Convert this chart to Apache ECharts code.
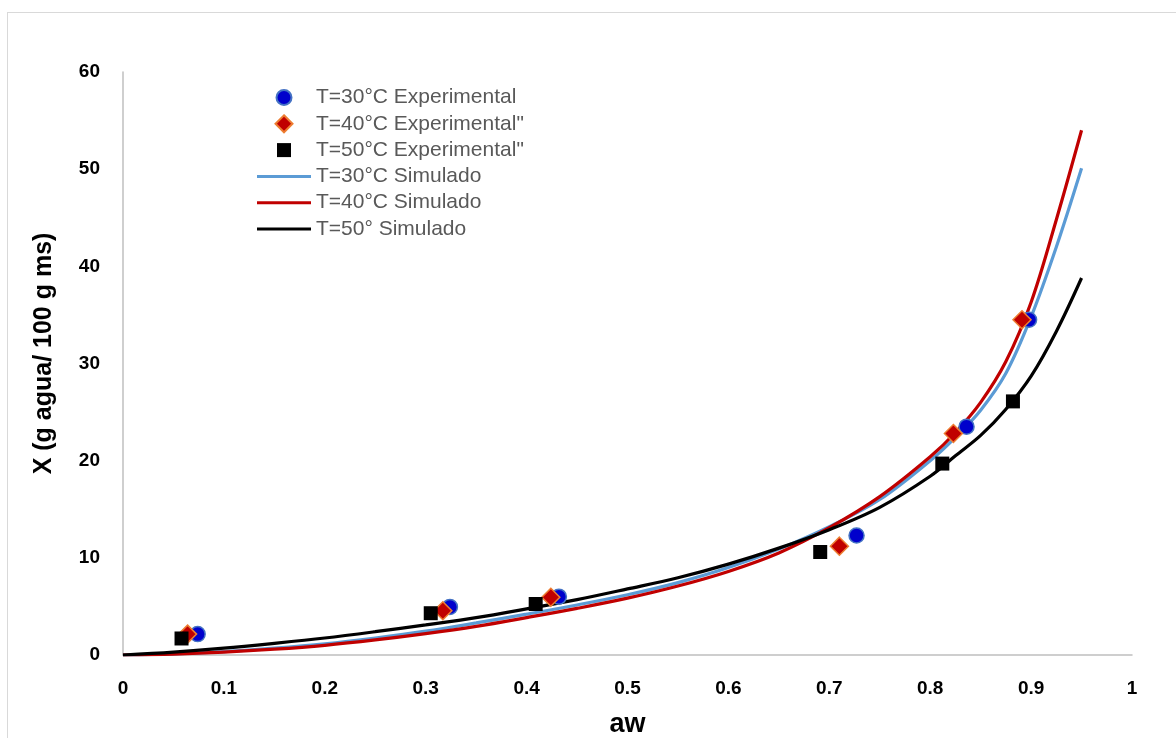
<!DOCTYPE html>
<html>
<head>
<meta charset="utf-8">
<script src="https://cdn.jsdelivr.net/npm/echarts@6/dist/echarts.min.js"></script>
<style>
  html, body { margin: 0; padding: 0; background: #fff; }
  #frame { position: absolute; left: 7px; top: 12px; width: 1200px; height: 760px; border: 1px solid #d9d9d9; box-sizing: border-box; }
  #chart { position: absolute; left: 0; top: 0; width: 1176px; height: 738px; }
</style>
</head>
<body>
<div id="frame"></div>
<div id="chart"></div>
<script>
// experimental points [aw, X]
const exp30 = [[0.074, 2.15], [0.324, 4.95], [0.432, 6.0], [0.727, 12.3], [0.836, 23.5], [0.898, 34.5]];
const exp40 = [[0.064, 2.15], [0.317, 4.55], [0.424, 5.95], [0.710, 11.2], [0.823, 22.8], [0.891, 34.5]];
const exp50 = [[0.058, 1.7], [0.305, 4.3], [0.409, 5.25], [0.691, 10.6], [0.812, 19.7], [0.882, 26.1]];

// simulated curves
const awSim = [0, 0.05, 0.1, 0.15, 0.2, 0.25, 0.3, 0.35, 0.4, 0.45, 0.5, 0.55, 0.6, 0.65, 0.7, 0.75, 0.8, 0.825, 0.85, 0.875, 0.9, 0.925, 0.95];
const sim30 = [0, 0.12, 0.35, 0.7, 1.15, 1.75, 2.45, 3.3, 4.2, 5.15, 6.2, 7.45, 9.0, 10.9, 13.2, 16.0, 20.0, 22.4, 25.2, 29.0, 34.8, 42.0, 50.1];
const sim40 = [0, 0.1, 0.3, 0.6, 1.0, 1.55, 2.2, 2.95, 3.85, 4.8, 5.85, 7.1, 8.6, 10.5, 13.1, 16.3, 20.4, 22.9, 26.0, 30.2, 36.3, 44.8, 54.0];
const sim50 = [0, 0.3, 0.7, 1.2, 1.75, 2.4, 3.1, 3.85, 4.75, 5.7, 6.8, 7.95, 9.35, 11.0, 12.9, 15.2, 18.4, 20.5, 22.6, 25.3, 28.7, 33.3, 38.8];

const names = [
  'T=30°C Experimental', 'T=40°C Experimental"', 'T=50°C Experimental"',
  'T=30°C Simulado', 'T=40°C Simulado', 'T=50° Simulado'
];

// legend icons (bounding box padded with moveTo points so sizes differ)
const icons = [
  'path://M-8.5,-8.5M8.5,8.5M0,-7.5A7.5,7.5,0,1,1,0,7.5A7.5,7.5,0,1,1,0,-7.5Z',
  'path://M0,-8.5L8.5,0L0,8.5L-8.5,0Z',
  'path://M-8.5,-8.5M8.5,8.5M-7,-7H7V7H-7Z',
  'path://M0,0H54V3H0Z',
  'path://M0,0H54V3H0Z',
  'path://M0,0H54V3H0Z'
];

const pair = (xs, ys) => xs.map((x, i) => [x, ys[i]]);

const chart = echarts.init(document.getElementById('chart'), null, { renderer: 'canvas' });

const lineSeries = (name, data, color, z) => ({
  name, type: 'line', data, smooth: 0.35, showSymbol: false, symbol: 'none', z,
  lineStyle: { color, width: 3.2 }, itemStyle: { color }
});

chart.setOption({
  backgroundColor: 'transparent',
  animation: false,
  textStyle: { fontFamily: 'Liberation Sans' },
  grid: { left: 123, top: 72, width: 1009, height: 583, containLabel: false, outerBoundsMode: 'none' },
  legend: {
    left: 252, top: 82, orient: 'vertical',
    itemWidth: 54, itemHeight: 17, itemGap: 5.3,
    symbolKeepAspect: true,
    textStyle: { color: '#595959', fontSize: 21, fontFamily: 'Liberation Sans' },
    data: names.map((name, i) => ({ name, icon: icons[i] }))
  },
  xAxis: {
    type: 'value', min: 0, max: 1, interval: 0.1,
    name: 'aw', nameLocation: 'middle', nameGap: 56,
    nameTextStyle: { color: '#000', fontSize: 27, fontWeight: 'bold' },
    axisLine: { show: true, lineStyle: { color: '#bfbfbf', width: 1.5 } },
    axisTick: { show: false },
    splitLine: { show: false },
    axisLabel: { color: '#000', fontSize: 19, fontWeight: 'bold', margin: 24 }
  },
  yAxis: {
    type: 'value', min: 0, max: 60, interval: 10,
    name: 'X (g agua/ 100 g ms)', nameLocation: 'middle', nameGap: 66,
    nameTextStyle: { color: '#000', fontSize: 25, fontWeight: 'bold', padding: [0, 0, 0, 20] },
    axisLine: { show: true, lineStyle: { color: '#bfbfbf', width: 1.5 } },
    axisTick: { show: false },
    splitLine: { show: false },
    axisLabel: { color: '#000', fontSize: 19, fontWeight: 'bold', margin: 23 }
  },
  series: [
    lineSeries(names[3], pair(awSim, sim30), '#5B9BD5', 2),
    lineSeries(names[4], pair(awSim, sim40), '#C00000', 3),
    lineSeries(names[5], pair(awSim, sim50), '#000000', 4),
    {
      name: names[0], type: 'scatter', data: exp30, symbol: 'circle', symbolSize: 15, z: 5,
      itemStyle: { color: '#0000CC', borderColor: '#4472C4', borderWidth: 1.5, opacity: 1 }
    },
    {
      name: names[1], type: 'scatter', data: exp40, symbol: 'diamond', symbolSize: 18, z: 6,
      itemStyle: { color: '#C00000', borderColor: '#ED7D31', borderWidth: 1.5, opacity: 1 }
    },
    {
      name: names[2], type: 'scatter', data: exp50, symbol: 'rect', symbolSize: 14, z: 7,
      itemStyle: { color: '#000000', opacity: 1 }
    }
  ]
});
</script>
</body>
</html>
